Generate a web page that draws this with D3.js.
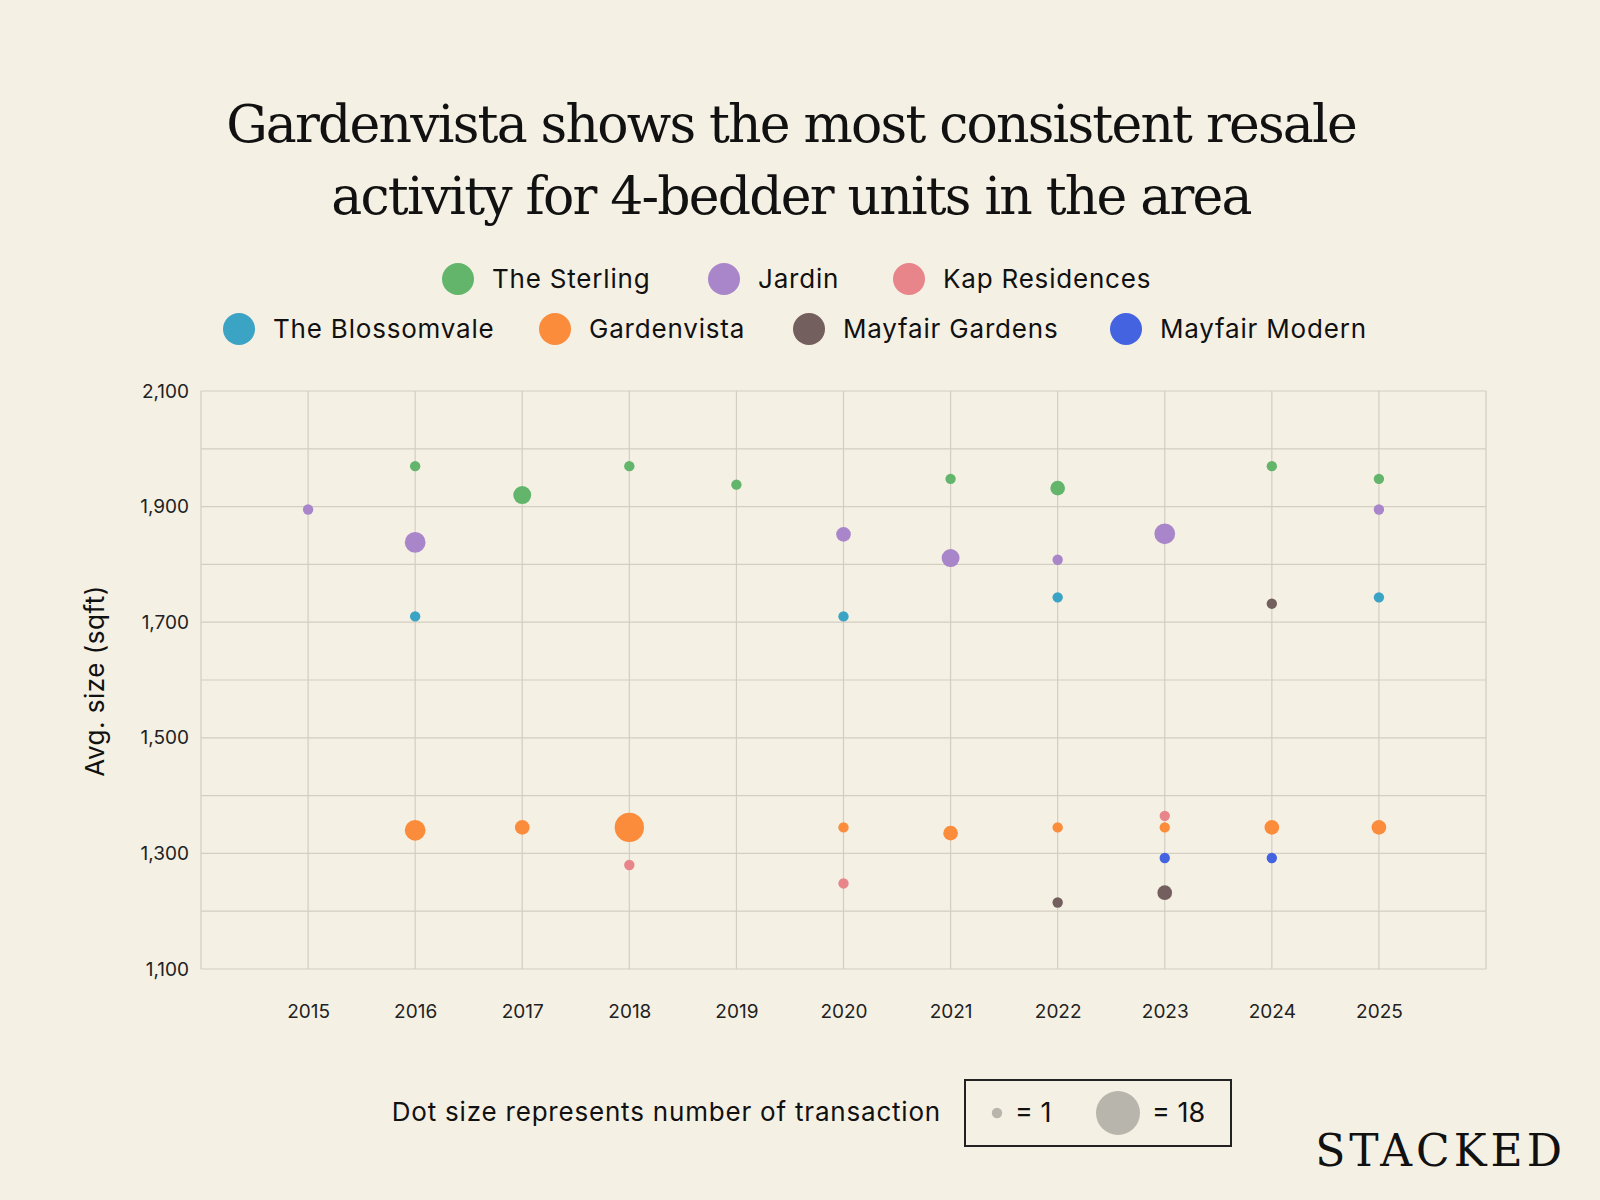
<!DOCTYPE html>
<html><head><meta charset="utf-8">
<script src="https://cdn.jsdelivr.net/npm/d3@7"></script>
<style>body{margin:0;background:#f5f0e4}</style></head>
<body><svg id="c" width="1600" height="1200"></svg>
<script>
const series = ["The Sterling","Jardin","Kap Residences","The Blossomvale","Gardenvista","Mayfair Gardens","Mayfair Modern"];
const colors = ["#62b56b","#a986c9","#e8858b","#3ba3c4","#fb8c3c","#735f5d","#4463e0"];
const sterling = [[2016,1970,1],[2017,1920,3],[2018,1970,1],[2019,1938,1],[2021,1948,1],[2022,1932,2],[2024,1970,1],[2025,1948,1]];
const jardin = [[2015,1895,1],[2016,1838,4],[2020,1852,2],[2021,1811,3],[2022,1808,1],[2023,1853,4],[2025,1895,1]];
const kap = [[2018,1280,1],[2020,1248,1],[2023,1365,1]];
const blossomvale = [[2016,1710,1],[2020,1710,1],[2022,1743,1],[2025,1743,1]];
const gardenvista = [[2016,1340,4],[2017,1345,2],[2018,1345,8],[2020,1345,1],[2021,1335,2],[2022,1345,1],[2023,1345,1],[2024,1345,2],[2025,1345,2]];
const mayfairGardens = [[2022,1215,1],[2023,1232,2],[2024,1732,1]];
const mayfairModern = [[2023,1292,1],[2024,1292,1]];
const allData = [sterling,jardin,kap,blossomvale,gardenvista,mayfairGardens,mayfairModern];
const years = d3.range(2015,2026);
const yTicks = [1100,1300,1500,1700,1900,2100];

const svg = d3.select("#c");
svg.append("rect").attr("width",1600).attr("height",1200).attr("fill","#f5f0e4");
const x = d3.scaleLinear().domain([2014,2026]).range([201,1486]);
const y = d3.scaleLinear().domain([1100,2100]).range([969,391]);
const r = d3.scaleSqrt().domain([0,18]).range([0,22]);

const title = svg.append("text").attr("text-anchor","middle").attr("font-family","'DejaVu Serif', serif").attr("font-size",52).attr("fill","#111").attr("letter-spacing",-1.8);
title.append("tspan").attr("x",791).attr("y",142).text("Gardenvista shows the most consistent resale");
title.append("tspan").attr("x",791).attr("y",214).text("activity for 4-bedder units in the area");

const leg = [[0,458,279],[1,724,279],[2,909,279],[3,239,329],[4,555,329],[5,809,329],[6,1126,329]];
leg.forEach(([i,cx,cy])=>{
  svg.append("circle").attr("cx",cx).attr("cy",cy).attr("r",16).attr("fill",colors[i]);
  svg.append("text").attr("x",cx+34).attr("y",cy+9).attr("font-family","Inter, sans-serif").attr("font-size",26).attr("letter-spacing",0.8).attr("fill","#111").text(series[i]);
});

const g = svg.append("g");
g.selectAll(".hg").data(d3.range(1100,2101,100)).join("line").attr("x1",201).attr("x2",1486).attr("y1",d=>y(d)).attr("y2",d=>y(d)).attr("stroke","#d3cdc2").attr("stroke-width",1.2);
g.selectAll(".vg").data(d3.range(2014,2027)).join("line").attr("y1",391).attr("y2",969).attr("x1",d=>x(d)).attr("x2",d=>x(d)).attr("stroke","#d3cdc2").attr("stroke-width",1.2);

const xa = svg.append("g").attr("transform","translate(0,969)").call(d3.axisBottom(x).tickValues(years).tickFormat(d3.format("d")).tickSize(0).tickPadding(36));
const ya = svg.append("g").attr("transform","translate(201,0)").call(d3.axisLeft(y).tickValues(yTicks).tickFormat(d3.format(",")).tickSize(0).tickPadding(12));
[xa,ya].forEach(a=>{a.select(".domain").remove();a.selectAll("text").attr("font-family","Inter, sans-serif").attr("font-size",19).attr("fill","#222");});

svg.append("text").attr("transform","translate(104,681) rotate(-90)").attr("text-anchor","middle").attr("font-family","Inter, sans-serif").attr("font-size",26).attr("letter-spacing",0.5).attr("fill","#111").text("Avg. size (sqft)");

allData.forEach((d,i)=>{
  svg.append("g").selectAll("circle").data(d).join("circle").attr("cx",p=>x(p[0])).attr("cy",p=>y(p[1])).attr("r",p=>r(p[2])).attr("fill",colors[i]);
});

svg.append("text").attr("x",941).attr("y",1121).attr("text-anchor","end").attr("font-family","Inter, sans-serif").attr("font-size",26).attr("letter-spacing",0.8).attr("fill","#111").text("Dot size represents number of transaction");
svg.append("rect").attr("x",965).attr("y",1080).attr("width",266).attr("height",66).attr("fill","none").attr("stroke","#222").attr("stroke-width",2);
svg.append("circle").attr("cx",997).attr("cy",1113).attr("r",r(1)).attr("fill","#b8b5ac");
svg.append("text").attr("x",1015).attr("y",1122).attr("font-family","Inter, sans-serif").attr("font-size",27).attr("fill","#111").text("= 1");
svg.append("circle").attr("cx",1118).attr("cy",1113).attr("r",r(18)).attr("fill","#b8b5ac");
svg.append("text").attr("x",1152).attr("y",1122).attr("font-family","Inter, sans-serif").attr("font-size",27).attr("fill","#111").text("= 18");
svg.append("text").attr("x",1566).attr("y",1166).attr("text-anchor","end").attr("font-family","'DejaVu Serif', serif").attr("font-size",44).attr("letter-spacing",4).attr("fill","#111").text("STACKED");
</script></body></html>
